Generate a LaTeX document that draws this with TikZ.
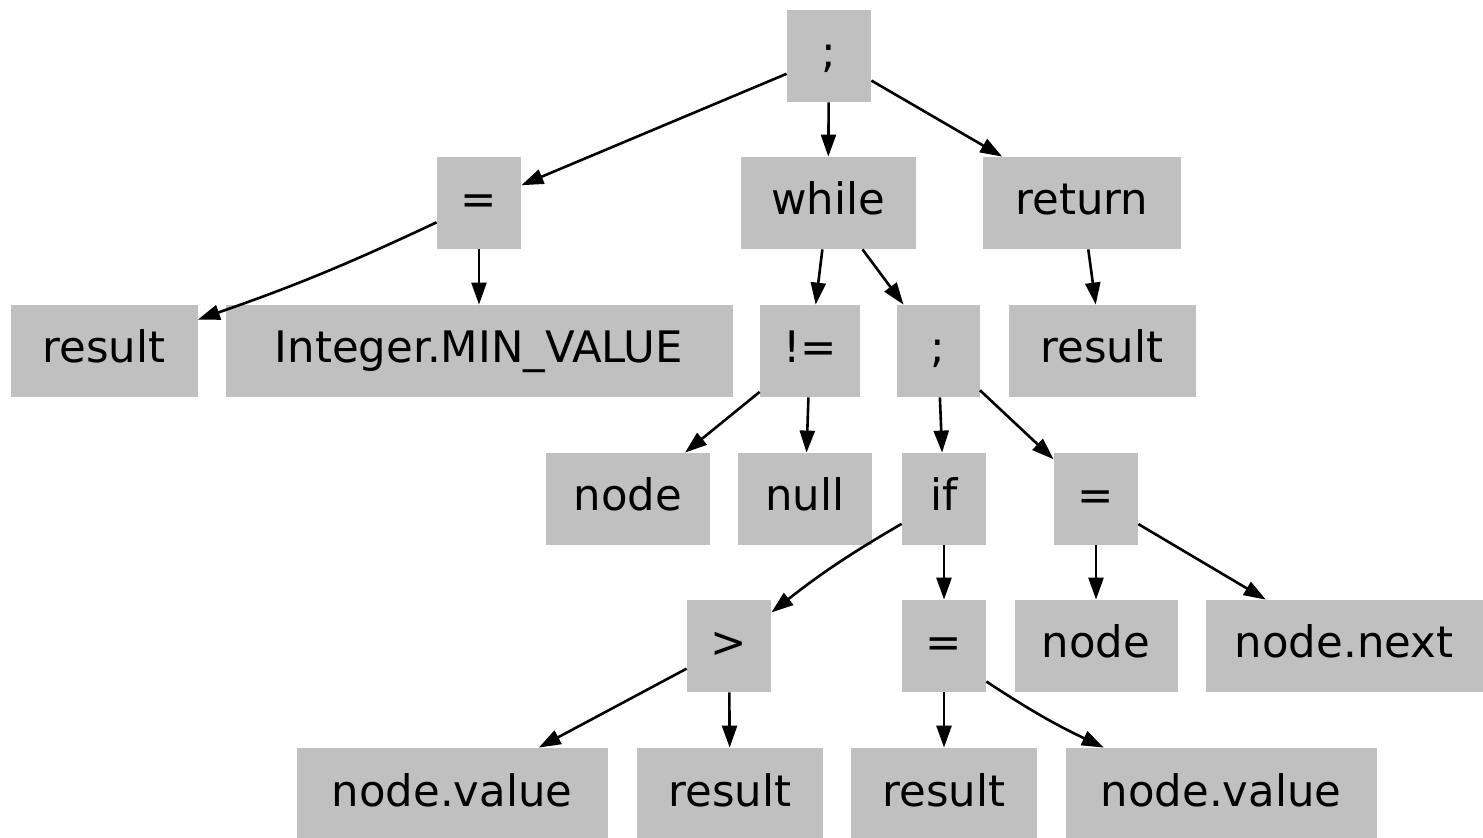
\documentclass[tikz,border=0pt]{standalone}
\usepackage{fontspec}
\setmainfont{DejaVu Sans}
\usepackage{tikz}
\usetikzlibrary{arrows.meta}

\begin{document}
\begin{tikzpicture}[x=0.5pt,y=-0.5pt,
  box/.style={fill={rgb,255:red,192;green,192;blue,192},inner sep=0pt,minimum height=46pt,
    text height=17pt,text depth=5pt,font=\fontsize{21.7}{26}\selectfont},
  edge/.style={line width=1.3pt,-{Triangle[length=11pt,width=7.5pt]}}]
\useasboundingbox (0,0) rectangle (1483,838);
% level 0 and 1
\node[box,minimum width=42pt]   (seq)    at (829,56)  {;};
\node[box,minimum width=42pt]   (asgn)   at (479,203) {=};
\node[box,minimum width=87.5pt] (while)  at (828,203) {while};
\node[box,minimum width=99pt]   (ret)    at (1082,203) {return};
% level 2
\node[box,minimum width=93.5pt]  (res)    at (104,351) {result};
\node[box,minimum width=253.5pt] (minval) at (479,351) {Integer.MIN\_VALUE};
\node[box,minimum width=50pt]    (neq)    at (810,351) {!=};
\node[box,minimum width=41.5pt]  (body)   at (938,351) {;};
\node[box,minimum width=93.5pt]  (retres) at (1102,351) {result};
% level 3
\node[box,minimum width=82pt] (nd)    at (628,499)  {node};
\node[box,minimum width=67pt] (null)  at (805,499)  {null};
\node[box,minimum width=42pt] (cond)  at (944,499)  {if};
\node[box,minimum width=42pt] (step2) at (1096,499) {=};
% level 4
\node[box,minimum width=42pt]    (gt)    at (729,646)  {>};
\node[box,minimum width=42pt]    (upd)   at (944,646)  {=};
\node[box,minimum width=81.5pt]  (nd2)   at (1096,646) {node};
\node[box,minimum width=138.5pt] (next)  at (1344,646) {node.next};
% level 5
\node[box,minimum width=155.5pt] (val)   at (452,794)  {node.value};
\node[box,minimum width=93pt]    (gtres) at (730,794)  {result};
\node[box,minimum width=93pt]    (upres) at (944,794)  {result};
\node[box,minimum width=155.5pt] (val2)  at (1221,794) {node.value};

\draw[edge] (seq) -- (asgn);
\draw[edge] (seq) -- (while);
\draw[edge] (seq) -- (ret);
\draw[edge] (asgn) to[bend left=3] (res);
\draw[edge] (asgn) -- (minval);
\draw[edge] (while) -- (neq);
\draw[edge] (while) -- (body);
\draw[edge] (ret) -- (retres);
\draw[edge] (neq) -- (nd);
\draw[edge] (neq) -- (null);
\draw[edge] (body) -- (cond);
\draw[edge] (body) -- (step2);
\draw[edge] (cond) to[bend right=4] (gt);
\draw[edge] (cond) -- (upd);
\draw[edge] (step2) -- (nd2);
\draw[edge] (step2) -- (next);
\draw[edge] (gt) -- (val);
\draw[edge] (gt) -- (gtres);
\draw[edge] (upd) -- (upres);
\draw[edge] (upd.-40) to[bend right=4] (val2);
\end{tikzpicture}
\end{document}
